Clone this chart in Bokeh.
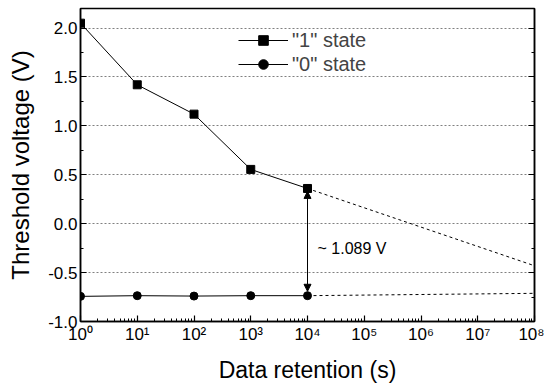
from bokeh.plotting import figure
from bokeh.models import (LinearAxis, SingleIntervalTicker, FixedTicker, Legend, LegendItem,
                          Arrow, NormalHead, Label, NumeralTickFormatter, CustomLabelingPolicy,
                          CustomJSTickFormatter)
from bokeh.embed import file_html
from bokeh.resources import INLINE

# ---- data ----
times = [1, 10, 100, 1000, 10000]
state1 = [2.05, 1.42, 1.12, 0.555, 0.36]
state0 = [-0.743, -0.736, -0.74, -0.736, -0.736]
extrap_t = [1e4, 1e8]
extrap1 = [0.36, -0.43]
extrap0 = [-0.736, -0.712]
window_label = "~ 1.089 V"
x_ticks = [10 ** k for k in range(9)]
sup = {0: "⁰", 1: "¹", 2: "²", 3: "³", 4: "⁴", 5: "⁵", 6: "⁶", 7: "⁷", 8: "⁸"}
x_tick_labels = {10 ** k: "10" + sup[k] for k in range(9)}

FONT = "Liberation Sans"

p = figure(width=544, height=385, x_axis_type="log", x_range=(1, 1e8), y_range=(-1.0, 2.2),
           output_backend="svg", toolbar_location=None,
           min_border_left=80, min_border_right=10, min_border_top=8, min_border_bottom=61)
p.outline_line_color = "black"
p.outline_line_width = 1.5
p.background_fill_color = "white"
p.border_fill_color = "white"

# grids
p.xgrid.visible = False
p.ygrid.ticker = SingleIntervalTicker(interval=0.5)
p.ygrid.grid_line_color = "#808080"
p.ygrid.grid_line_dash = "2 2"
p.ygrid.grid_line_width = 1

# x axis
xa = p.xaxis[0]
xa.ticker = FixedTicker(ticks=x_ticks,
                        minor_ticks=[m * 10 ** k for k in range(8) for m in range(2, 10)])
xa.major_label_overrides = x_tick_labels
xa.axis_label = "Data retention (s)"

# y axis
ya = p.yaxis[0]
ya.ticker = SingleIntervalTicker(interval=0.5, num_minor_ticks=2)
ya.formatter = NumeralTickFormatter(format="0.0")
ya.axis_label = "Threshold voltage (V)"

for ax in (xa, ya):
    ax.axis_line_color = "black"
    ax.axis_line_width = 1.5
    ax.major_tick_in = 6
    ax.major_tick_out = 0
    ax.minor_tick_in = 3
    ax.minor_tick_out = 0
    ax.major_tick_line_width = 1.2
    ax.minor_tick_line_width = 1
    ax.major_tick_line_color = "black"
    ax.minor_tick_line_color = "black"
    ax.major_label_text_font = FONT
    ax.major_label_text_font_size = "17px"
    ax.major_label_text_color = "black"
    ax.axis_label_text_font = FONT
    ax.axis_label_text_font_style = "normal"
    ax.axis_label_text_color = "black"
xa.axis_label_text_font_size = "23px"
ya.axis_label_text_font_size = "24px"
xa.major_label_standoff = 3
xa.axis_label_standoff = 10
ya.major_label_standoff = 3
ya.axis_label_standoff = 11

# right axis with inside ticks only, no labels
ra = LinearAxis(ticker=SingleIntervalTicker(interval=0.5, num_minor_ticks=2))
ra.formatter = CustomJSTickFormatter(code="return ''")
ra.major_label_policy = CustomLabelingPolicy(
    code="for (let i = 0; i < indices.size; i++) { indices.unset(i) }; return indices")
ra.major_label_standoff = 0
ra.axis_line_color = "black"
ra.axis_line_width = 1.5
ra.major_tick_in = 6
ra.major_tick_out = 0
ra.minor_tick_in = 3
ra.minor_tick_out = 0
p.add_layout(ra, "right")

# data
l1 = p.line(times, state1, line_color="black", line_width=1)
s1 = p.scatter(times, state1, marker="square", size=8, color="black")
l0 = p.line(times, state0, line_color="black", line_width=1)
s0 = p.scatter(times, state0, marker="circle", size=8, color="black")
p.line(extrap_t, extrap1, line_color="black", line_width=1, line_dash="3 3")
p.line(extrap_t, extrap0, line_color="black", line_width=1, line_dash="3 3")

# arrow between states at 10^4
p.add_layout(Arrow(x_start=times[-1], y_start=state1[-1] - 0.03,
                   x_end=times[-1], y_end=state0[-1] + 0.045,
                   line_color="black", line_width=1,
                   start=NormalHead(size=7, fill_color="black", line_color="black"),
                   end=NormalHead(size=7, fill_color="black", line_color="black")))
p.add_layout(Label(x=1.5e4, y=-0.25, text=window_label, text_font=FONT,
                   text_font_size="16px", text_baseline="middle", text_color="black"))

legend = Legend(items=[LegendItem(label='"1" state', renderers=[l1, s1]),
                       LegendItem(label='"0" state', renderers=[l0, s0])],
                location=(158, 245), orientation="vertical")
legend.background_fill_alpha = 0
legend.border_line_alpha = 0
legend.padding = 0
legend.margin = 0
legend.spacing = 0
legend.glyph_width = 50
legend.glyph_height = 24
legend.label_height = 24
legend.label_standoff = 4
legend.label_text_font = FONT
legend.label_text_font_size = "20px"
legend.label_text_baseline = "middle"
p.add_layout(legend, "center")

open("out.html", "w").write(file_html(p, INLINE))
